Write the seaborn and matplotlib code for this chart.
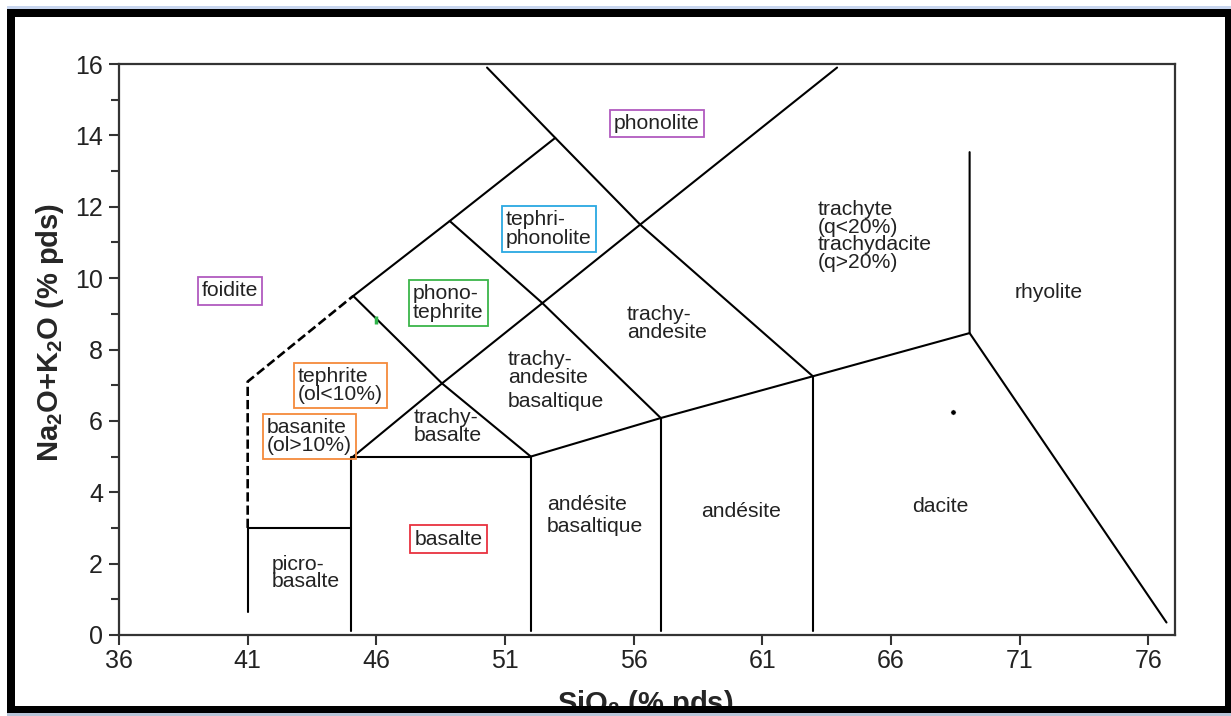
import numpy as np
import matplotlib
matplotlib.use('Agg')
import matplotlib.pyplot as plt
from matplotlib.patches import Rectangle
import seaborn as sns

# limites du diagramme TAS : SiO2 (x) et Na2O+K2O (y)
picro_x = [41.0, 41.0, 45.0]
picro_y = [0.65, 3.0, 3.0]
basalte_x = [45.0, 45.0, 52.0, 52.0]
basalte_y = [0.1, 5.0, 5.0, 0.1]
foid_x = [41.0, 41.0, 45.1]          # limite en pointilles
foid_y = [3.0, 7.1, 9.5]
diag1_x = [45.1, 48.55, 52.45, 56.25, 63.9]
diag1_y = [5.0, 7.05, 9.3, 11.5, 15.9]
diag2_x = [45.1, 48.85, 52.95]
diag2_y = [9.5, 11.6, 13.93]
phono_x = [50.3, 52.95, 56.25, 62.96]
phono_y = [15.9, 13.93, 11.5, 7.25]
tephrite_x = [45.1, 48.55, 52.0]
tephrite_y = [9.5, 7.05, 5.0]
teph_ph_x = [48.85, 52.45, 57.05]
teph_ph_y = [11.6, 9.3, 6.08]
base_x = [52.0, 57.05, 62.96, 69.05]
base_y = [5.0, 6.08, 7.25, 8.46]
and_x = [57.05, 57.05]
and_y = [0.1, 6.08]
dac_x = [62.96, 62.96]
dac_y = [0.1, 7.25]
rhyo_x = [69.05, 69.05, 76.7]
rhyo_y = [13.53, 8.46, 0.35]

# echantillons
ech_x = [68.4]
ech_y = [6.25]
vert_x = [46.0]
vert_y = [8.83]

# etiquettes : texte, x, y, alignement, couleur du cadre (None = sans cadre)
labels = ['phonolite', 'tephri-\nphonolite', 'foidite', 'phono-\ntephrite',
          'tephrite\n(ol<10%)', 'basanite\n(ol>10%)', 'trachy-\nbasalte',
          'trachy-\nandesite', 'basaltique', 'trachy-\nandesite',
          'trachyte\n(q<20%)\ntrachydacite\n(q>20%)', 'rhyolite', 'dacite',
          'andésite', 'andésite\nbasaltique', 'basalte', 'picro-\nbasalte']
lab_x = [56.9, 51.03, 39.22, 47.42, 42.95, 41.75, 47.45, 51.1, 51.1, 55.74,
         63.16, 72.13, 67.9, 60.16, 52.63, 48.8, 41.94]
lab_y = [14.34, 11.38, 9.64, 9.3, 6.99, 5.56, 5.84, 7.47, 6.53, 8.73,
         11.18, 9.6, 3.59, 3.47, 3.35, 2.69, 1.74]
lab_ha = ['center', 'left', 'left', 'left', 'left', 'left', 'left', 'left',
          'left', 'left', 'left', 'center', 'center', 'center', 'left',
          'center', 'left']
lab_box = ['#b15bbf', '#2aa8e2', '#b15bbf', '#3cb54a', '#f58a3c', '#f58a3c',
           None, None, None, None, None, None, None, None, None, '#e8313f', None]

sns.set_theme(style='ticks')
plt.rcParams['font.family'] = ['Liberation Sans', 'DejaVu Sans']
plt.rcParams['mathtext.default'] = 'regular'

fig = plt.figure(figsize=(12.31, 7.16), dpi=100)
ax = fig.add_axes([119/1231, 1-635/716, 1056/1231, 571/716])

lw = 1.5
segs = [(picro_x, picro_y), (basalte_x, basalte_y), (diag1_x, diag1_y),
        (diag2_x, diag2_y), (phono_x, phono_y), (tephrite_x, tephrite_y),
        (teph_ph_x, teph_ph_y), (base_x, base_y), (and_x, and_y),
        (dac_x, dac_y), (rhyo_x, rhyo_y)]
for sx, sy in segs:
    sns.lineplot(x=sx, y=sy, sort=False, estimator=None, color='black',
                 lw=lw, ax=ax)
sns.lineplot(x=foid_x, y=foid_y, sort=False, estimator=None, color='black',
             lw=lw + 0.4, linestyle=(0, (3.5, 1.5)), ax=ax)

sns.scatterplot(x=ech_x, y=ech_y, color='black', s=14, ax=ax, zorder=5)
sns.scatterplot(x=vert_x, y=vert_y, color='#2fb34a', marker='|', s=40,
                linewidth=2.5, ax=ax, zorder=5)

for t, x, y, ha, c in zip(labels, lab_x, lab_y, lab_ha, lab_box):
    bbox = None
    ls = 0.9
    if c is not None:
        bbox = dict(boxstyle='square,pad=0.2', fc='none', ec=c, lw=1.3)
        ls = 0.95
    if t.startswith('andésite\n'):
        ls = 1.2
    ax.text(x, y, t, ha=ha, va='center', fontsize=15.2, color='#222222',
            linespacing=ls, bbox=bbox, zorder=6)

ax.set_xlim(36, 77.03)
ax.set_ylim(0, 16)
ax.set_xticks(np.arange(36, 77, 5))
ax.set_yticks(np.arange(0, 17, 2))
ax.set_yticks(np.arange(0, 17, 1), minor=True)
ax.tick_params(axis='both', which='both', direction='out', color='#333333',
               width=1.5, labelsize=18, labelcolor='#222222')
ax.tick_params(axis='both', which='major', length=7)
ax.tick_params(axis='y', which='minor', length=6)
ax.tick_params(axis='x', which='minor', bottom=False)
ax.tick_params(axis='y', pad=4.5)
ax.tick_params(axis='x', pad=3)
for sp in ax.spines.values():
    sp.set_visible(True)
    sp.set_color('#333333')
    sp.set_linewidth(1.6)

# le titre de l'axe x est coupe par le cadre, comme sur l'original
ax.set_xlabel('SiO$_2$ (% pds)', fontsize=21, fontweight='bold')
ax.set_ylabel('Na$_2$O+K$_2$O (% pds)', fontsize=21, fontweight='bold')
ax.xaxis.set_label_coords(0.498, -0.093)
ax.yaxis.set_label_coords(-0.050, 0.53)

# cadre noir autour de la figure
W, H = 1231.0, 716.0
def rect(x0, y0, x1, y1, col):
    fig.add_artist(Rectangle((x0/W, 1-y1/H), (x1-x0)/W, (y1-y0)/H,
                             transform=fig.transFigure, color=col, lw=0,
                             zorder=20))

rect(7, 6, 1231, 9, '#c8d6ef')
rect(7, 9, 1231, 17, 'black')
rect(7, 9, 15, 713, 'black')
rect(1225, 9, 1231, 713, 'black')
rect(7, 706, 1231, 713, 'black')
rect(7, 713, 1231, 716, '#b8c4d8')

plt.savefig('out.png', dpi=100)
print('out.png saved')
